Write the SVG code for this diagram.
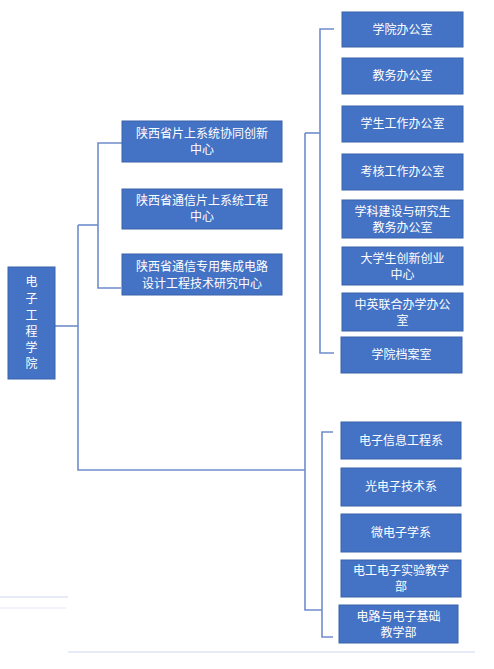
<svg xmlns="http://www.w3.org/2000/svg" width="494" height="669" viewBox="0 0 494 669">
<style>
.box{fill:#4472C4;stroke:#3A62AA;stroke-width:1}
.t{fill:#FFFFFF;font-family:"Noto Sans CJK SC","Liberation Sans",sans-serif;font-size:12px;text-anchor:middle}
.c{fill:none;stroke:#6F8CCB;stroke-width:1.6}
.faint{fill:none;stroke:#E6EBF7;stroke-width:2}
</style>
<rect width="494" height="669" fill="#FFFFFF"/>
<g id="artifacts">
<line class="faint" x1="0" y1="597" x2="68" y2="597"/>
<line class="faint" x1="0" y1="608" x2="66" y2="608" stroke-opacity="0.6"/>
<line class="faint" x1="68" y1="652" x2="475" y2="652"/>
</g>
<g id="connectors">
<polyline class="c" points="55,326 78,326"/>
<polyline class="c" points="78,225 78,470 305,470"/>
<polyline class="c" points="78,225 98,225"/>
<polyline class="c" points="122,143 98,143 98,288 121,288"/>
<polyline class="c" points="305,133 305,610 322,610"/>
<polyline class="c" points="305,133 320,133"/>
<polyline class="c" points="334,29 320,29 320,353 334,353"/>
<polyline class="c" points="333,432 322,432 322,637 333,637"/>
</g>
<g id="root">
<rect class="box" x="8" y="267" width="47" height="112"/>
<text class="t" x="31.5" y="286">电</text>
<text class="t" x="31.5" y="303">子</text>
<text class="t" x="31.5" y="320">工</text>
<text class="t" x="31.5" y="336">程</text>
<text class="t" x="31.5" y="352">学</text>
<text class="t" x="31.5" y="368">院</text>
</g>
<g id="m1">
<rect class="box" x="122" y="121" width="160" height="41"/>
<text class="t" x="202" y="138">陕西省片上系统协同创新</text>
<text class="t" x="202" y="154">中心</text>
</g>
<g id="m2">
<rect class="box" x="122" y="189" width="160" height="40"/>
<text class="t" x="202" y="205">陕西省通信片上系统工程</text>
<text class="t" x="202" y="221">中心</text>
</g>
<g id="m3">
<rect class="box" x="122" y="254" width="160" height="41"/>
<text class="t" x="202" y="271">陕西省通信专用集成电路</text>
<text class="t" x="202" y="288">设计工程技术研究中心</text>
</g>
<g id="o1">
<rect class="box" x="342" y="12" width="121" height="35"/>
<text class="t" x="402.5" y="34">学院办公室</text>
</g>
<g id="o2">
<rect class="box" x="342" y="58" width="121" height="36"/>
<text class="t" x="402.5" y="80">教务办公室</text>
</g>
<g id="o3">
<rect class="box" x="342" y="106" width="121" height="36"/>
<text class="t" x="402.5" y="128">学生工作办公室</text>
</g>
<g id="o4">
<rect class="box" x="342" y="154" width="121" height="36"/>
<text class="t" x="402.5" y="176">考核工作办公室</text>
</g>
<g id="o5">
<rect class="box" x="342" y="200" width="121" height="38"/>
<text class="t" x="402.5" y="216">学科建设与研究生</text>
<text class="t" x="402.5" y="232">教务办公室</text>
</g>
<g id="o6">
<rect class="box" x="342" y="247" width="121" height="38"/>
<text class="t" x="402.5" y="263">大学生创新创业</text>
<text class="t" x="402.5" y="279">中心</text>
</g>
<g id="o7">
<rect class="box" x="342" y="293" width="121" height="38"/>
<text class="t" x="402.5" y="309">中英联合办学办公</text>
<text class="t" x="402.5" y="325">室</text>
</g>
<g id="o8">
<rect class="box" x="341" y="337" width="121" height="36"/>
<text class="t" x="401.5" y="359">学院档案室</text>
</g>
<g id="d1">
<rect class="box" x="341" y="422" width="120" height="37"/>
<text class="t" x="401" y="445">电子信息工程系</text>
</g>
<g id="d2">
<rect class="box" x="341" y="468" width="120" height="38"/>
<text class="t" x="401" y="491">光电子技术系</text>
</g>
<g id="d3">
<rect class="box" x="341" y="514" width="120" height="38"/>
<text class="t" x="401" y="537">微电子学系</text>
</g>
<g id="d4">
<rect class="box" x="341" y="560" width="120" height="37"/>
<text class="t" x="401" y="575">电工电子实验教学</text>
<text class="t" x="401" y="591">部</text>
</g>
<g id="d5">
<rect class="box" x="339" y="605" width="119" height="38"/>
<text class="t" x="398.5" y="621">电路与电子基础</text>
<text class="t" x="398.5" y="637">教学部</text>
</g>
</svg>
